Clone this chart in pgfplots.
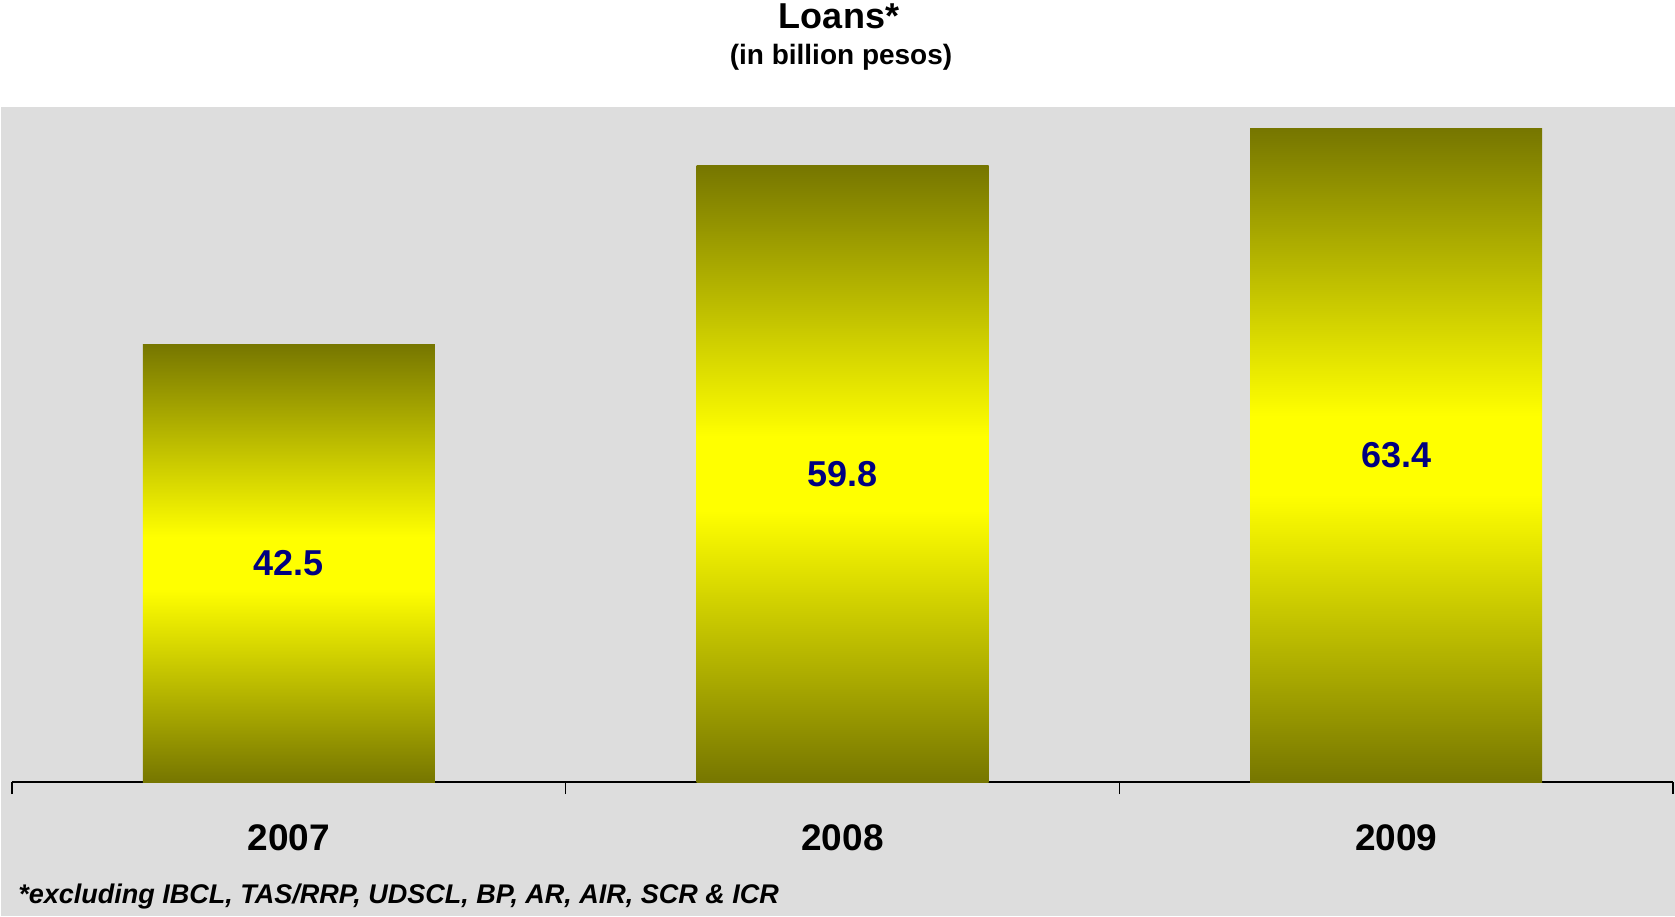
\documentclass[border=0pt]{standalone}
\usepackage{pgfplots}
\pgfplotsset{compat=1.18}
\usepackage{fontspec}
\setmainfont{Liberation Sans}
\definecolor{bggrey}{HTML}{DDDDDD}
\definecolor{olivedark}{HTML}{767600}
\definecolor{valnavy}{HTML}{000080}
\pgfdeclareverticalshading{barshade}{100bp}{color(0bp)=(olivedark); color(25bp)=(olivedark); color(47bp)=(yellow); color(53bp)=(yellow); color(75bp)=(olivedark); color(100bp)=(olivedark)}
\pgfplotsset{loanbar/.style={ybar, bar width=146pt, draw=none, shading=barshade, mark=none,
    point meta=explicit symbolic,
    visualization depends on={rawy \as \rawy},
    nodes near coords,
    nodes near coords style={anchor=center, font=\fontsize{18}{21}\selectfont\bfseries, text=valnavy,
      shift={(axis direction cs:0,-\rawy/2)}}}}
\begin{document}
\begin{tikzpicture}
\useasboundingbox (-6pt,-67pt) rectangle (831.5pt,391pt);
\fill[bggrey] (-5.5pt,-67pt) rectangle (831.5pt,337.5pt);
\begin{axis}[
  scale only axis,
  width=830.5pt, height=337.5pt,
  xmin=-0.5, xmax=2.5, ymin=0, ymax=65.5,
  axis x line*=bottom,
  hide y axis,
  axis line style={black, line width=0.8pt},
  xtick={0,1,2},
  xticklabels={2007,2008,2009},
  major tick length=0pt,
  minor xtick={-0.5,0.5,1.5,2.5},
  minor tick length=6pt,
  tick align=outside,
  minor tick style={black, line width=0.8pt},
  xticklabel style={font=\fontsize{18.5}{22}\selectfont\bfseries, anchor=base, yshift=-34pt},
  clip=false,
]
\addplot[loanbar] coordinates {(0,42.5)[42.5]};
\addplot[loanbar] coordinates {(1,59.8)[59.8]};
\addplot[loanbar] coordinates {(2,63.4)[63.4]};
\end{axis}
\node[anchor=base] at (413.5pt,376.5pt) {\fontsize{18}{22}\selectfont\bfseries Loans*};
\node[anchor=base] at (414.5pt,358.5pt) {\fontsize{14}{17}\selectfont\bfseries (in billion pesos)};
\node[anchor=base west, inner sep=0pt] at (3pt,-60.5pt) {\fontsize{13.5}{16}\selectfont\bfseries\itshape *excluding IBCL, TAS/RRP, UDSCL, BP, AR, AIR, SCR \& ICR};
\end{tikzpicture}
\end{document}
